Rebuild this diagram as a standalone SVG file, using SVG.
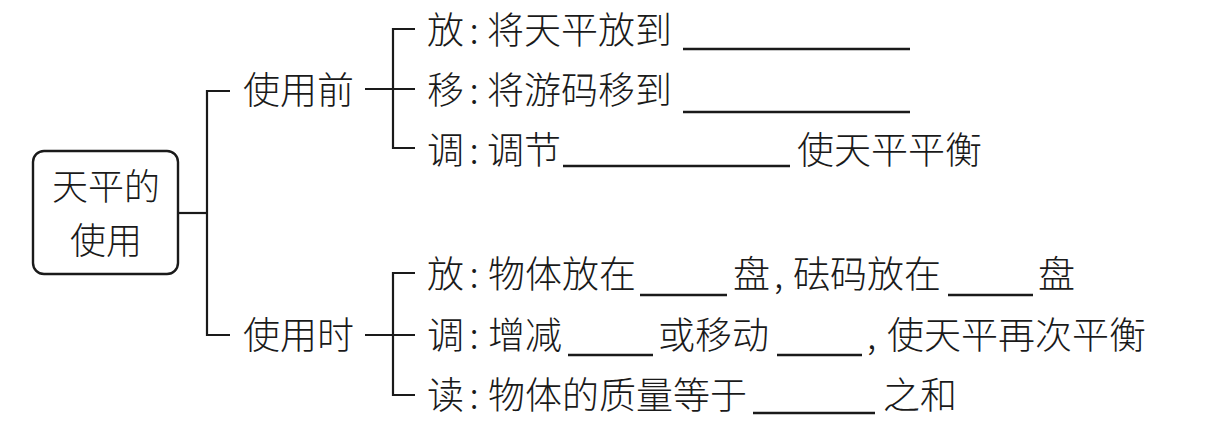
<svg xmlns="http://www.w3.org/2000/svg" width="1232" height="437" viewBox="0 0 1232 437">
<style>
.t{font-family:"Noto Sans CJK SC","Noto Sans CJK JP",sans-serif;font-size:37px;font-weight:300;fill:#1a1a1a}
.b{font-size:36px}
.c{text-anchor:middle}
.ln{fill:none;stroke:#1a1a1a;stroke-width:2.2}
.ul{fill:none;stroke:#1a1a1a;stroke-width:2.4}
</style>
<rect width="1232" height="437" fill="#ffffff"/>
<g id="root">
<rect x="33" y="151" width="145" height="123" rx="11" fill="#ffffff" stroke="#1a1a1a" stroke-width="2.4"/>
<text class="t b c" x="106" y="200">天平的</text>
<text class="t b c" x="106" y="254">使用</text>
</g>
<g id="before">
<text class="t" x="243" y="104">使用前</text>
</g>
<g id="during">
<text class="t" x="243" y="349">使用时</text>
</g>
<g id="before-place">
<text class="t" x="427" y="44">放</text><text class="t c" x="474" y="44">:</text><text class="t" x="487" y="44">将天平放到</text>
<line class="ul" x1="683" y1="49" x2="910" y2="49"/>
</g>
<g id="before-move">
<text class="t" x="427" y="104">移</text><text class="t c" x="474" y="104">:</text><text class="t" x="487" y="104">将游码移到</text>
<line class="ul" x1="683" y1="112" x2="910" y2="112"/>
</g>
<g id="before-adjust">
<text class="t" x="427" y="164">调</text><text class="t c" x="474" y="164">:</text><text class="t" x="487" y="164">调节</text>
<line class="ul" x1="563" y1="166" x2="790" y2="166"/>
<text class="t" x="797" y="164">使天平平衡</text>
</g>
<g id="during-place">
<text class="t" x="427" y="288">放</text><text class="t c" x="474" y="288">:</text><text class="t" x="488" y="288">物体放在</text>
<line class="ul" x1="640" y1="295" x2="727" y2="295"/>
<text class="t" x="733" y="288">盘</text><text class="t" x="774" y="288">,</text>
<text class="t" x="793" y="288">砝码放在</text>
<line class="ul" x1="948" y1="295" x2="1033" y2="295"/>
<text class="t" x="1038" y="288">盘</text>
</g>
<g id="during-adjust">
<text class="t" x="427" y="349">调</text><text class="t c" x="474" y="349">:</text><text class="t" x="488" y="349">增减</text>
<line class="ul" x1="568" y1="355" x2="653" y2="355"/>
<text class="t" x="658" y="349">或移动</text>
<line class="ul" x1="777" y1="355" x2="862" y2="355"/>
<text class="t" x="867" y="349">,</text>
<text class="t" x="887" y="349">使天平再次平衡</text>
</g>
<g id="during-read">
<text class="t" x="427" y="409">读</text><text class="t c" x="474" y="409">:</text><text class="t" x="488" y="409">物体的质量等于</text>
<line class="ul" x1="753" y1="413" x2="875" y2="413"/>
<text class="t" x="883" y="409">之和</text>
</g>
<g id="connectors">
<path class="ln" d="M178,213 H207"/>
<path class="ln" d="M230,91 H207 V335 H230"/>
<path class="ln" d="M365,89 H415"/>
<path class="ln" d="M415,29 H393 V148 H415"/>
<path class="ln" d="M365,335 H415"/>
<path class="ln" d="M415,273 H393 V395 H415"/>
</g>
</svg>
